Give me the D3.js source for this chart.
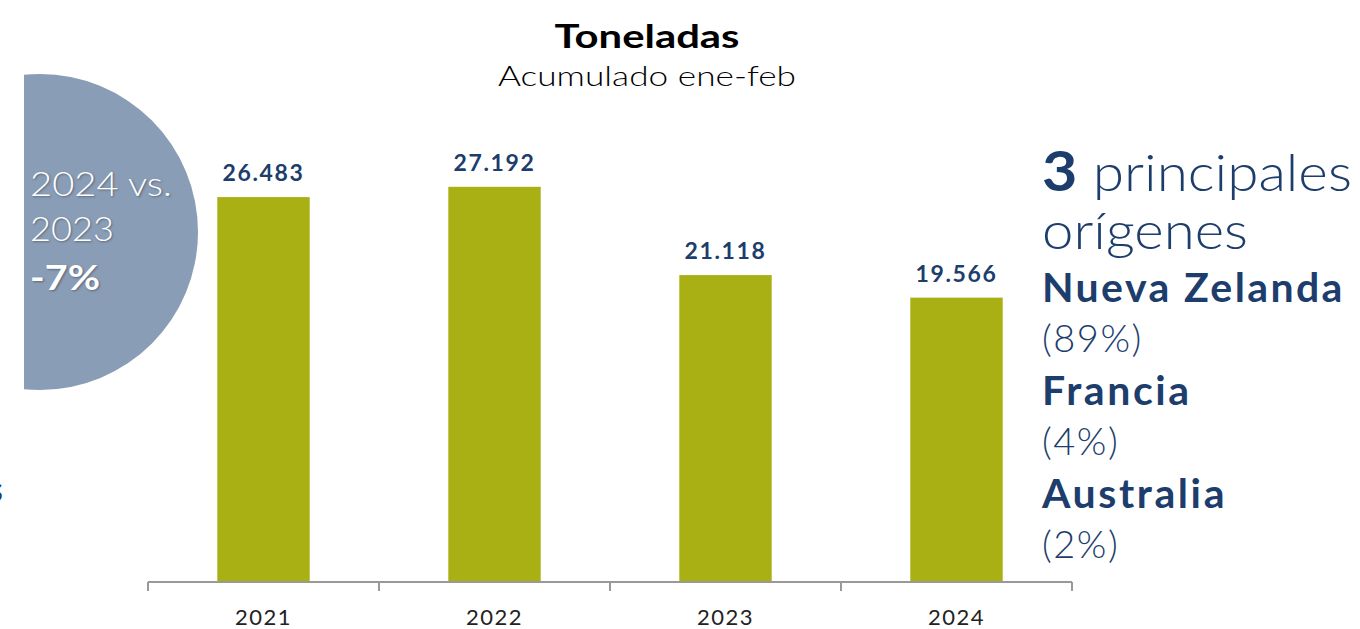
<!DOCTYPE html>
<html>
<head>
<meta charset="utf-8">
<script src="https://cdn.jsdelivr.net/npm/d3@7"></script>
<style>
  body { margin: 0; background: #fff; }
  svg { font-family: Lato, "Open Sans", sans-serif; }
</style>
</head>
<body>
<div id="bar"></div>
<script>
const years = ["2021", "2022", "2023", "2024"];
const tonnes = [26483, 27192, 21118, 19566];
const valueLabels = ["26.483", "27.192", "21.118", "19.566"];
const origins = ["Nueva Zelanda", "Francia", "Australia"];
const originShares = ["(89%)", "(4%)", "(2%)"];

function buildBarChart() {
  const width = 1360;
  const height = 629;
  const navy = "#1d3d6c";

  const svg = d3.select("#bar")
    .append("svg")
    .attr("width", width)
    .attr("height", height);

  // Scales
  const xScale = d3.scaleBand()
    .domain(years)
    .range([148, 1072])
    .paddingInner(0.6)
    .paddingOuter(0.3);
  const yScale = d3.scaleLinear()
    .domain([0, 30000])
    .range([582, 146]);

  // Title (Raleway is wider than Lato, so stretch a little)
  svg.append("text")
    .attr("x", 647).attr("y", 48)
    .attr("text-anchor", "middle")
    .attr("textLength", 185).attr("lengthAdjust", "spacingAndGlyphs")
    .style("font-size", "33px").style("font-weight", 700)
    .style("fill", "#000")
    .text("Toneladas");
  svg.append("text")
    .attr("x", 647).attr("y", 86)
    .attr("text-anchor", "middle")
    .attr("textLength", 298).attr("lengthAdjust", "spacingAndGlyphs")
    .style("font-size", "28px").style("font-weight", 300)
    .style("fill", "#000")
    .text("Acumulado ene-feb");

  // Bars
  svg.selectAll(".bar")
    .data(tonnes)
    .enter()
    .append("rect")
    .attr("class", "bar")
    .attr("x", (d, i) => xScale(years[i]))
    .attr("y", (d) => yScale(d))
    .attr("width", xScale.bandwidth())
    .attr("height", (d) => yScale(0) - yScale(d))
    .style("fill", "#a8b013");

  // Value labels
  svg.selectAll(".value")
    .data(tonnes)
    .enter()
    .append("text")
    .attr("class", "value")
    .attr("x", (d, i) => xScale(years[i]) + xScale.bandwidth() / 2)
    .attr("y", (d) => yScale(d) - 16)
    .attr("text-anchor", "middle")
    .style("font-size", "23px").style("font-weight", 700)
    .style("letter-spacing", "1.6px")
    .style("fill", navy)
    .text((d, i) => valueLabels[i]);

  // X axis: boundary ticks between categories
  const axisG = svg.append("g").attr("class", "x-axis");
  const edges = years.map((y) => xScale(y) - xScale.step() * xScale.paddingOuter())
    .concat([xScale.range()[1]]);
  axisG.append("line")
    .attr("x1", xScale.range()[0]).attr("x2", xScale.range()[1])
    .attr("y1", yScale(0)).attr("y2", yScale(0))
    .style("stroke", "#999").style("stroke-width", 2);
  axisG.selectAll(".tick-line")
    .data(edges)
    .enter()
    .append("line")
    .attr("x1", (d) => d).attr("x2", (d) => d)
    .attr("y1", yScale(0)).attr("y2", yScale(0) + 9)
    .style("stroke", "#999").style("stroke-width", 2);
  axisG.selectAll(".tick-label")
    .data(years)
    .enter()
    .append("text")
    .attr("x", (d) => xScale(d) + xScale.bandwidth() / 2)
    .attr("y", 625)
    .attr("text-anchor", "middle")
    .style("font-size", "22px")
    .style("letter-spacing", "1.5px")
    .style("fill", "#222")
    .text((d) => d);

  // Variation circle
  svg.append("clipPath").attr("id", "clipLeft")
    .append("rect").attr("x", 24).attr("y", 0).attr("width", 300).attr("height", height);
  svg.append("circle")
    .attr("cx", 40).attr("cy", 232).attr("r", 158)
    .attr("clip-path", "url(#clipLeft)")
    .style("fill", "#8a9db6");
  const circleLines = [
    { t: "2024 vs.", y: 196, w: 300, len: 142 },
    { t: "2023", y: 241, w: 300, len: 84 },
    { t: "-7%", y: 290, w: 700, len: 70 }
  ];
  svg.selectAll(".circle-text")
    .data(circleLines)
    .enter()
    .append("text")
    .attr("x", 30).attr("y", (d) => d.y)
    .attr("textLength", (d) => d.len).attr("lengthAdjust", "spacingAndGlyphs")
    .style("font-size", "34px")
    .style("font-weight", (d) => d.w)
    .style("fill", "#fff")
    .style("text-shadow", "1px 1px 2px rgba(0,0,0,0.35)")
    .text((d) => d.t);

  // Clipped fragments from neighbouring panel
  svg.append("text").attr("x", -10).attr("y", 179)
    .style("font-size", "30px").style("font-weight", 700).style("fill", navy).text(".");
  svg.append("text").attr("x", -13).attr("y", 502)
    .style("font-size", "36px").style("font-weight", 700).style("fill", navy).text("s");

  // Right side: main origins
  const side = svg.append("g").attr("class", "origins");
  const head = side.append("text").attr("x", 1042).attr("y", 191)
    .attr("textLength", 310).attr("lengthAdjust", "spacingAndGlyphs")
    .style("fill", navy);
  head.append("tspan").style("font-size", "56px").style("font-weight", 700).text("3");
  head.append("tspan").style("font-size", "52px").style("font-weight", 300).text(" principales");
  side.append("text").attr("x", 1042).attr("y", 249)
    .attr("textLength", 206).attr("lengthAdjust", "spacingAndGlyphs")
    .style("font-size", "52px").style("font-weight", 300).style("fill", navy)
    .text("orígenes");

  origins.forEach((name, i) => {
    const base = 302 + i * 103;
    side.append("text").attr("x", 1042).attr("y", base)
      .style("font-size", "41px").style("font-weight", 700)
      .style("letter-spacing", i === 0 ? "2.4px" : "2.6px")
      .style("fill", navy)
      .text(name);
    side.append("text").attr("x", 1042).attr("y", base + 50)
      .style("font-size", "38px").style("font-weight", 300)
      .style("letter-spacing", "1.5px")
      .style("fill", navy)
      .text(originShares[i]);
  });
}

window.onload = buildBarChart;
</script>
</body>
</html>
